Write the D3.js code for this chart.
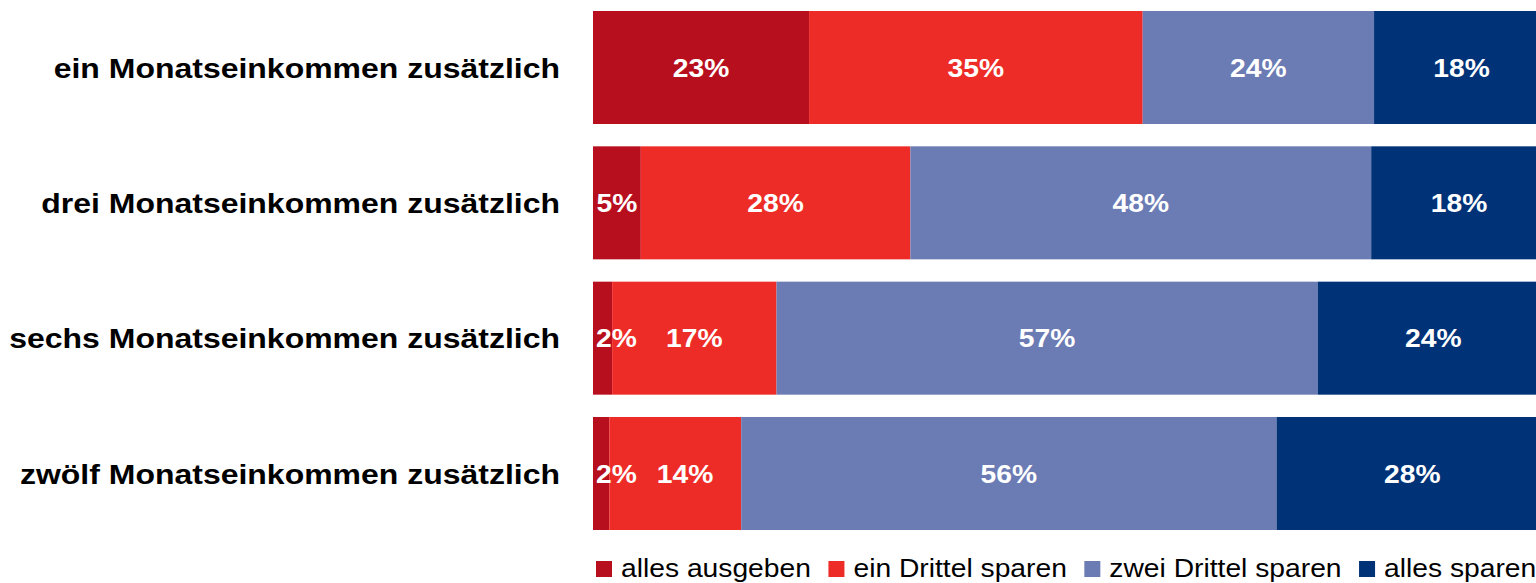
<!DOCTYPE html>
<html>
<head>
<meta charset="utf-8">
<script src="https://cdn.jsdelivr.net/npm/d3@7"></script>
<style>
  body { margin: 0; background: #fff; }
  svg { display: block; font-family: "Liberation Sans", Arial, sans-serif; }
</style>
</head>
<body>
<div id="chart"></div>
<script>
// categories (rows, top to bottom)
var categories = [
    "ein Monatseinkommen zusätzlich",
    "drei Monatseinkommen zusätzlich",
    "sechs Monatseinkommen zusätzlich",
    "zwölf Monatseinkommen zusätzlich"
];

// series names (legend order) and colours
var seriesNames = ["alles ausgeben", "ein Drittel sparen", "zwei Drittel sparen", "alles sparen"];
var seriesColors = ["#b80f1f", "#ee2c27", "#6b7bb4", "#003278"];

// values per series, one per category (percent)
var allesAusgeben    = [22.6, 5.0, 2.0, 1.7];
var einDrittelSparen = [34.9, 28.2, 17.2, 13.8];
var zweiDrittelSparen = [24.2, 48.2, 56.6, 56.0];
var allesSparen      = [18.3, 18.4, 24.2, 28.4];

var seriesValues = [allesAusgeben, einDrittelSparen, zweiDrittelSparen, allesSparen];

var width = 1536, height = 583;
var stretch = 1.13; // text in the original is slightly wider than tall

var svg = d3.select("#chart")
    .append("svg")
    .attr("width", width)
    .attr("height", height);

// scales
var xScale = d3.scaleLinear()
    .domain([0, 100])
    .range([593, 1549]);

var yScale = d3.scaleBand()
    .domain(categories)
    .range([11, 530])
    .paddingInner(0.165)
    .paddingOuter(0);

// build stacked segments
var segments = [];
categories.forEach(function (cat, i) {
    var acc = 0;
    seriesValues.forEach(function (vals, s) {
        segments.push({ cat: cat, row: i, s: s, x0: acc, x1: acc + vals[i], v: vals[i] });
        acc += vals[i];
    });
});

// bars
svg.append("g")
    .selectAll("rect")
    .data(segments)
    .enter()
    .append("rect")
    .attr("x", function (d) { return xScale(d.x0); })
    .attr("y", function (d) { return yScale(d.cat); })
    .attr("width", function (d) { return xScale(d.x1) - xScale(d.x0); })
    .attr("height", yScale.bandwidth())
    .attr("fill", function (d) { return seriesColors[d.s]; });

// category labels
svg.append("g")
    .selectAll("text")
    .data(categories)
    .enter()
    .append("text")
    .attr("transform", function (d) {
        return "translate(560," + (yScale(d) + yScale.bandwidth() / 2) + ") scale(" + stretch + ",1)";
    })
    .attr("dy", "0.36em")
    .attr("text-anchor", "end")
    .style("font-size", "28.3px")
    .style("font-weight", "bold")
    .attr("fill", "#000")
    .text(function (d) { return d; });

// value labels, pushed right when they would overlap the start or the previous label
var labelG = svg.append("g");
categories.forEach(function (cat, i) {
    var rowSegs = segments.filter(function (d) { return d.row === i; });
    var prevRight = -Infinity;
    rowSegs.forEach(function (d) {
        var t = labelG.append("text")
            .style("font-size", "25px")
            .style("font-weight", "bold")
            .attr("fill", "#fff")
            .attr("dy", "0.36em")
            .text(Math.round(d.v) + "%");
        var w = t.node().getComputedTextLength() * stretch;
        var cx = (xScale(d.x0) + xScale(d.x1)) / 2;
        var left = cx - w / 2;
        left = Math.max(left, xScale(0) + 3, prevRight + 20);
        prevRight = left + w;
        t.attr("transform", "translate(" + left + "," + (yScale(cat) + yScale.bandwidth() / 2) + ") scale(" + stretch + ",1)");
    });
});

// legend
var legend = svg.append("g");
var lx = 596;
seriesNames.forEach(function (name, s) {
    legend.append("rect")
        .attr("x", lx)
        .attr("y", 561)
        .attr("width", 16)
        .attr("height", 16)
        .attr("fill", seriesColors[s]);
    var t = legend.append("text")
        .style("font-size", "25px")
        .attr("fill", "#000")
        .text(name);
    t.attr("transform", "translate(" + (lx + 25) + ",577) scale(" + stretch + ",1)");
    lx += 25 + t.node().getComputedTextLength() * stretch + 17.5;
});
</script>
</body>
</html>
